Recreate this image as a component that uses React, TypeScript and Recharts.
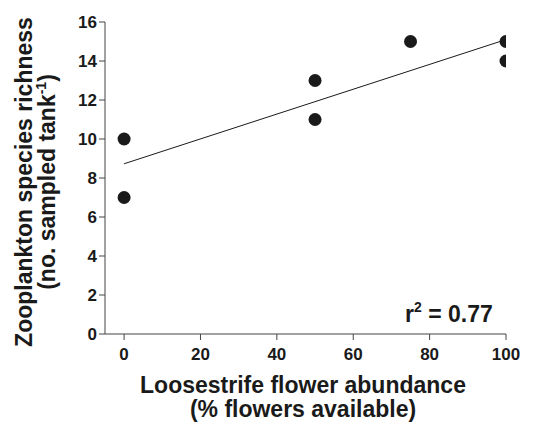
import React from "react";
import { ScatterChart, Scatter, XAxis, YAxis, Label } from "recharts";

const flowerPct = [0, 0, 50, 50, 75, 100, 100];
const richness = [10, 7, 13, 11, 15, 15, 14];

// fitted regression line end points
const fitX = [0, 100];
const fitY = [8.73, 15.1];

const xTicks = [0, 20, 40, 60, 80, 100];
const yTicks = [0, 2, 4, 6, 8, 10, 12, 14, 16];

const points = flowerPct.map((x, i) => ({ x, y: richness[i] }));
const fit = fitX.map((x, i) => ({ x, y: fitY[i] }));

const FONT = "'Liberation Sans', Arial, Helvetica, sans-serif";
const INK = "#1a1a1a";

const Dot = (props: any) => {
  const { cx, cy } = props;
  if (cx == null || cy == null) return <g />;
  return <circle cx={cx} cy={cy} r={6.5} fill={INK} />;
};

const NoDot = () => <g />;

const YTitle = () => (
  <g fontFamily={FONT} fontWeight="bold" fontSize={23} fill={INK}>
    <text x={32} y={182} textAnchor="middle" transform="rotate(-90 32 182)">
      Zooplankton species richness
    </text>
    <text x={55} y={182} textAnchor="middle" transform="rotate(-90 55 182)">
      (no. sampled tank
      <tspan fontSize={14} dy={-9}>
        -1
      </tspan>
      <tspan dy={9}>)</tspan>
    </text>
  </g>
);

const XTitle = () => (
  <g fontFamily={FONT} fontWeight="bold" fontSize={23} fill={INK}>
    <text x={303} y={393} textAnchor="middle">
      Loosestrife flower abundance
    </text>
    <text x={303} y={417} textAnchor="middle">
      (% flowers available)
    </text>
    <text x={405} y={322} fontSize={23}>
      r
      <tspan fontSize={14} dy={-10}>
        2
      </tspan>
      <tspan dy={10}> = 0.77</tspan>
    </text>
  </g>
);

const tickStyle = { fontFamily: FONT, fontWeight: "bold", fontSize: 17, fill: INK };

export default function App() {
  return (
    <div style={{ position: "absolute", left: 0, top: 0, background: "#fff" }}>
      <ScatterChart width={539} height={423} margin={{ top: 22, right: 33, bottom: 0, left: 0 }}>
        <XAxis
          type="number"
          dataKey="x"
          domain={[-5, 100]}
          ticks={xTicks}
          height={89}
          tickSize={6}
          tickMargin={8}
          stroke="#444"
          tick={tickStyle}
          allowDataOverflow
        >
          <Label content={<XTitle />} />
        </XAxis>
        <YAxis
          type="number"
          dataKey="y"
          domain={[0, 16]}
          ticks={yTicks}
          width={105}
          tickSize={6}
          tickMargin={2}
          stroke="#444"
          tick={tickStyle}
          allowDataOverflow
        >
          <Label content={<YTitle />} />
        </YAxis>
        <Scatter
          data={fit}
          line={{ stroke: INK, strokeWidth: 1 }}
          shape={<NoDot />}
          isAnimationActive={false}
        />
        <Scatter data={points} shape={<Dot />} isAnimationActive={false} />
      </ScatterChart>
    </div>
  );
}
